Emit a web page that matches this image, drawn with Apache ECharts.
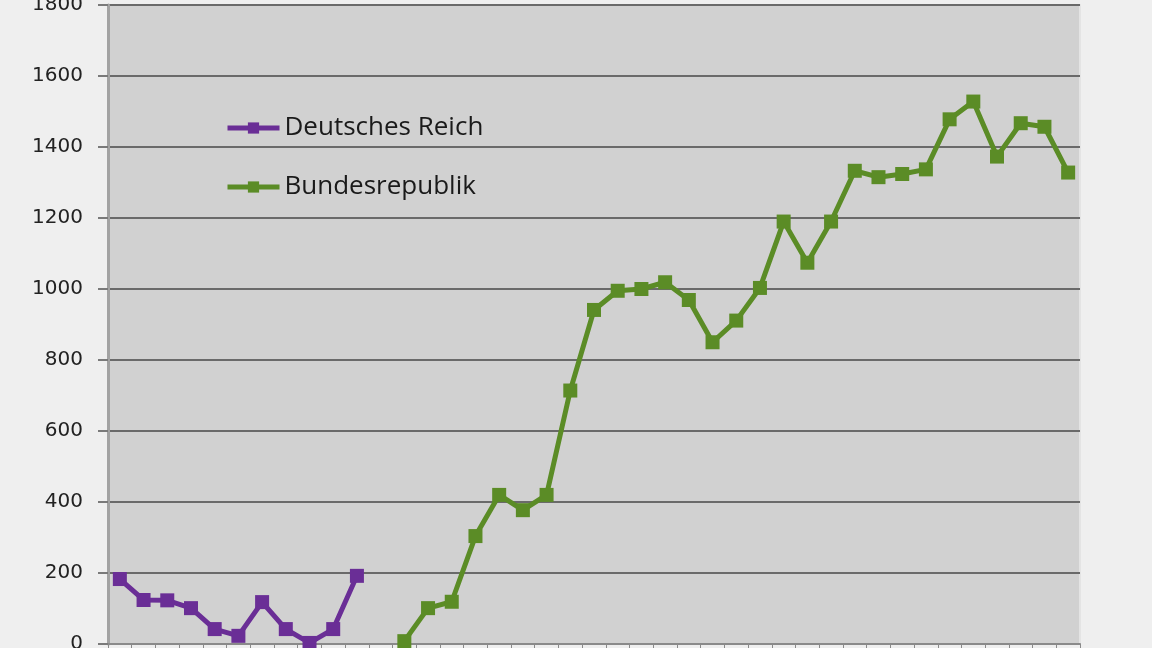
<!DOCTYPE html>
<html>
<head>
<meta charset="utf-8">
<script src="https://cdn.jsdelivr.net/npm/echarts@6/dist/echarts.min.js"></script>
<style>
  html, body { margin: 0; padding: 0; background: #efefef; }
  #chart { width: 1152px; height: 648px; }
</style>
</head>
<body>
<div id="chart"></div>
<script>
// ============ Data ============
// 41 category slots; x labels fall below the visible frame
const categories = Array.from({ length: 41 }, (_, i) => String(i + 1))

const reichValues = [183, 124, 123, 101, 42, 23, 118, 42, 3, 42, 192]
const bundValues = [8, 101, 119, 304, 420, 377, 420, 714, 941, 995, 1000, 1019, 969, 850,
  911, 1003, 1190, 1074, 1190, 1333, 1315, 1324, 1337, 1478, 1528, 1373, 1467, 1457, 1328]

const yTicks = { min: 0, max: 1800, interval: 200 }

// place each series on its own slots
const reichData = categories.map((_, i) => (i < reichValues.length ? reichValues[i] : null))
const bundStart = categories.length - bundValues.length
const bundData = categories.map((_, i) => (i >= bundStart ? bundValues[i - bundStart] : null))

const purple = '#6a2e96'
const green = '#5b8c26'

const chart = echarts.init(document.getElementById('chart'))
chart.setOption({
  backgroundColor: '#efefef',
  animation: false,
  textStyle: { fontFamily: 'Open Sans' },
  grid: {
    left: 108,
    right: 72,
    top: 5,
    bottom: 4,
    outerBoundsMode: 'none',
    containLabel: false,
    show: true,
    backgroundColor: '#d1d1d1',
    borderColor: '#e4e4e4',
    borderWidth: 2,
  },
  legend: {
    orient: 'vertical',
    left: 225,
    top: 115,
    padding: 0,
    itemGap: 33,
    itemWidth: 52,
    itemHeight: 14,
    lineStyle: { width: 5 },
    textStyle: { fontSize: 26, color: '#1a1a1a', fontFamily: 'Open Sans' },
    data: ['Deutsches Reich', 'Bundesrepublik'],
  },
  xAxis: {
    type: 'category',
    data: categories,
    boundaryGap: true,
    axisLine: { show: true, lineStyle: { color: '#8a8a8a', width: 2 } },
    axisTick: { show: true, length: 8, lineStyle: { color: '#8a8a8a', width: 1 } },
    axisLabel: { show: false },
    splitLine: { show: false },
  },
  yAxis: {
    type: 'value',
    min: yTicks.min,
    max: yTicks.max,
    interval: yTicks.interval,
    axisLine: { show: true, lineStyle: { color: '#a2a2a2', width: 3 } },
    axisTick: { show: true, length: 10, lineStyle: { color: '#7a7a7a', width: 2 } },
    axisLabel: {
      fontSize: 20,
      color: '#222222',
      margin: 25,
      fontFamily: 'DejaVu Sans',
      formatter: (v) => String(v),
    },
    splitLine: { show: true, lineStyle: { color: '#6a6a6a', width: 2 } },
  },
  series: [
    {
      name: 'Deutsches Reich',
      type: 'line',
      data: reichData,
      connectNulls: false,
      symbol: 'rect',
      symbolSize: 14,
      lineStyle: { color: purple, width: 5 },
      itemStyle: { color: purple },
    },
    {
      name: 'Bundesrepublik',
      type: 'line',
      data: bundData,
      connectNulls: false,
      symbol: 'rect',
      symbolSize: 14,
      lineStyle: { color: green, width: 5 },
      itemStyle: { color: green },
    },
  ],
})
</script>
</body>
</html>
